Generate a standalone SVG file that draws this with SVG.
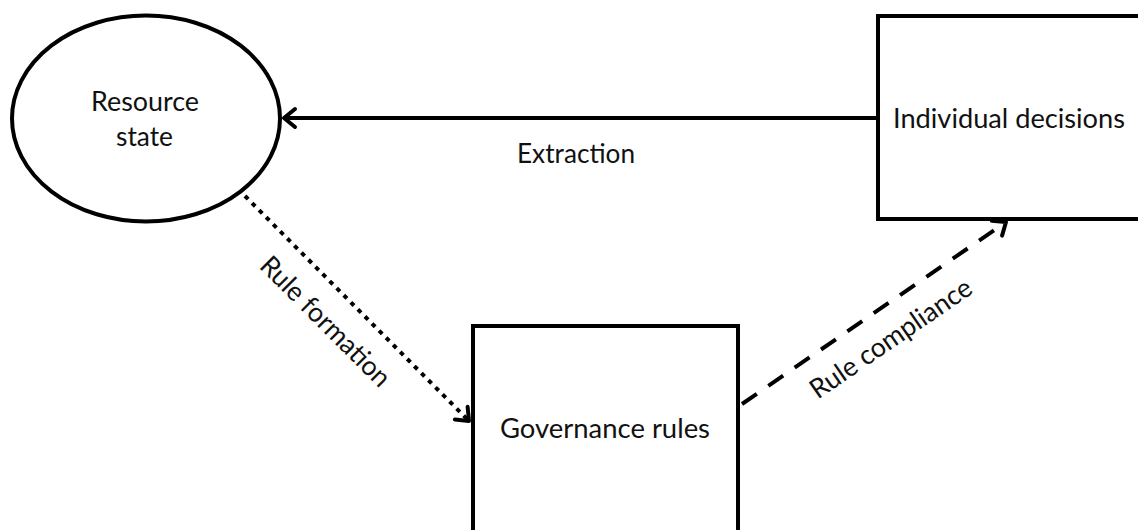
<svg xmlns="http://www.w3.org/2000/svg" width="1138" height="530" viewBox="0 0 1138 530">
  <style>
    .shape { fill: #fff; stroke: #000; stroke-width: 4; }
    .lbl { font-family: Lato, "Liberation Sans", sans-serif; font-size: 27px; fill: #111; }
    .conn { fill: none; stroke: #000; stroke-width: 4; }
  </style>
  <defs>
    <marker id="arr" markerUnits="userSpaceOnUse" markerWidth="30" markerHeight="30" viewBox="-20 -15 30 30" refX="0" refY="0" orient="auto">
      <path d="M-11,-9 L0,0 L-11,9" fill="none" stroke="#000" stroke-width="4" stroke-dasharray="none" stroke-linecap="round" stroke-linejoin="round"/>
    </marker>
  </defs>
  <rect width="1138" height="530" fill="#fff"/>

  <g id="node-resource-state">
    <ellipse class="shape" cx="146" cy="118.5" rx="134" ry="103"/>
    <text class="lbl" x="145" y="111" text-anchor="middle" textLength="108" lengthAdjust="spacingAndGlyphs">Resource</text>
    <text class="lbl" x="144.5" y="146" text-anchor="middle" textLength="57" lengthAdjust="spacingAndGlyphs">state</text>
  </g>

  <g id="node-individual-decisions">
    <rect class="shape" x="878" y="16" width="280" height="203"/>
    <text class="lbl" x="893" y="128" textLength="232" lengthAdjust="spacingAndGlyphs">Individual decisions</text>
  </g>

  <g id="node-governance-rules">
    <rect class="shape" x="473" y="326" width="265" height="230"/>
    <text class="lbl" x="500" y="438" textLength="210" lengthAdjust="spacingAndGlyphs">Governance rules</text>
  </g>

  <g id="connectors">
    <line class="conn" x1="876" y1="118" x2="284" y2="118" marker-end="url(#arr)"/>
    <text class="lbl" x="517" y="163" textLength="118" lengthAdjust="spacingAndGlyphs">Extraction</text>

    <line class="conn" x1="245" y1="196" x2="469" y2="421" stroke-dasharray="4.5 5.5" marker-end="url(#arr)"/>
    <text class="lbl" x="0" y="0" text-anchor="middle" textLength="172" lengthAdjust="spacingAndGlyphs" transform="translate(319,328) rotate(45)">Rule formation</text>

    <line class="conn" x1="742" y1="404" x2="1006" y2="222" stroke-dasharray="18 14" marker-end="url(#arr)"/>
    <text class="lbl" x="0" y="0" text-anchor="middle" textLength="190" lengthAdjust="spacingAndGlyphs" transform="translate(896,346) rotate(-34.5)">Rule compliance</text>
  </g>
</svg>
